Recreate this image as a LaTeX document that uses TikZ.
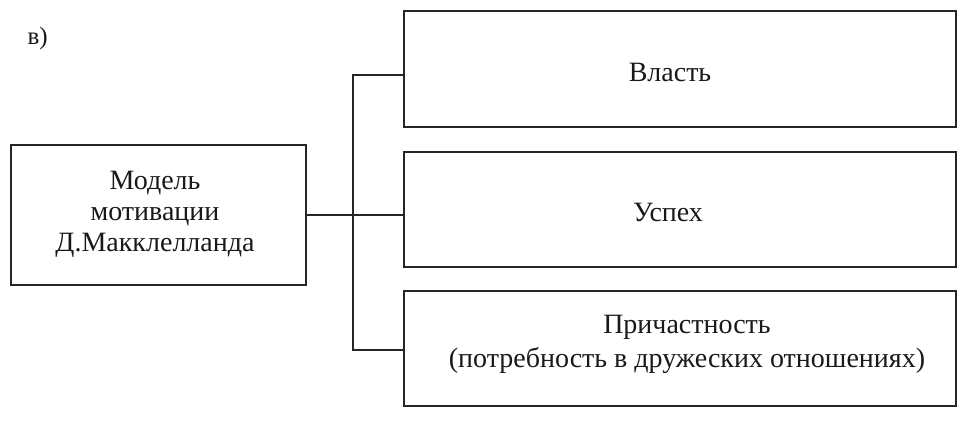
\documentclass[tikz,border=0pt]{standalone}
\usepackage{fontspec}
\setmainfont{Liberation Serif}
\begin{document}
\begin{tikzpicture}[x=1pt,y=-1pt,
  box/.style={draw=black!85, line width=1.4pt, rectangle, inner sep=0pt},
  lbl/.style={align=center, font=\fontsize{28}{31}\selectfont, text=black!90},
  conn/.style={draw=black!85, line width=1.4pt}]
\useasboundingbox[fill=white] (0,0) rectangle (970,424);
\node[box, minimum width=295pt, minimum height=140pt] (left) at (158.5,215) {};
\node[box, minimum width=552pt, minimum height=116pt] (b1) at (680,69) {};
\node[box, minimum width=552pt, minimum height=115pt] (b2) at (680,209.5) {};
\node[box, minimum width=552pt, minimum height=115pt] (b3) at (680,348.5) {};
\node[lbl] (tl) at (155,214) {Модель\\мотивации\\Д.Макклелланда};
\node[lbl] (t1) at (670,72) {Власть};
\node[lbl] (t2) at (668,212) {Успех};
\node[lbl, font=\fontsize{28}{34}\selectfont] (t3) at (687,344) {Причастность\\(потребность в дружеских отношениях)};
\node[font=\fontsize{25}{28}\selectfont, anchor=west, text=black!90] (v) at (24,38) {в)};
\coordinate (jtop) at (353,75);
\coordinate (jmid) at (353,215);
\coordinate (jbot) at (353,350);
\draw[conn] (b1.west |- jtop) -- (jtop) -- (jbot) -- (b3.west |- jbot);
\draw[conn] (left.east) -- (jmid) -- (b2.west |- jmid);
\end{tikzpicture}
\end{document}
